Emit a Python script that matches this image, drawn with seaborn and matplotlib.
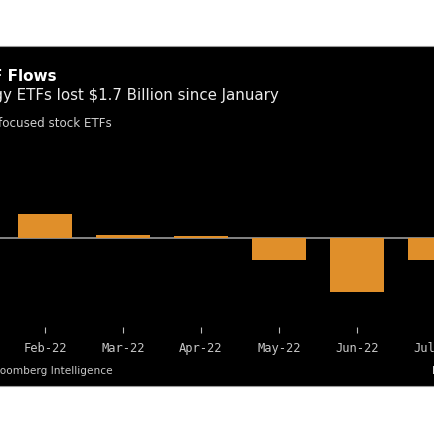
import pandas as pd
import matplotlib
matplotlib.use("Agg")
import matplotlib.pyplot as plt
from matplotlib.patches import Rectangle
import seaborn as sns

# Monthly flows into energy-focused stock ETFs, $ millions
months = ["Jan-22", "Feb-22", "Mar-22", "Apr-22", "May-22", "Jun-22", "Jul-22"]
flows = [-300, 480, 70, 35, -440, -1080, -440]

title = "Energy ETF Flows"
subtitle = "Energy ETFs lost $1.7 Billion since January"
note = "Monthly flows for energy-focused stock ETFs"
source = "Source: Bloomberg Intelligence"

df = pd.DataFrame({"Month": months, "Flow": flows})

sns.set_theme(style="white")
plt.rcParams["font.family"] = ["DejaVu Sans"]

W = H = 435
fig = plt.figure(figsize=(4.35, 4.35), dpi=100, facecolor="white")

# black panel of the original graphic (cropped screenshot)
fig.patches.append(Rectangle((-0.01, (H - 387) / H), 1.02, 340 / H,
                             transform=fig.transFigure, facecolor="black",
                             edgecolor="#9a9a9a", linewidth=0.8, zorder=-5))

# axes spans beyond the visible crop: Jan..Jul, 78 px per month
ax = fig.add_axes([-72 / W, (H - 328) / H, 546 / W, 178 / H])
ax.set_facecolor("none")

sns.barplot(data=df, x="Month", y="Flow", color="#e08f2a", width=0.69,
            saturation=1, linewidth=0, edgecolor="none", ax=ax, zorder=2)
ax.axhline(0, color="#a8a8a8", linewidth=1.1, zorder=1)

ax.set_xlim(-0.5, len(months) - 0.5)
ax.set_ylim(-1780, 1780)
ax.set_xlabel("")
ax.set_ylabel("")
ax.set_yticks([])
for s in ax.spines.values():
    s.set_visible(False)
ax.tick_params(axis="x", bottom=True, direction="out", length=4, width=0.8,
               color="#bbbbbb", pad=6, labelsize=8.7, labelcolor="#c8c8c8")
for lbl in ax.get_xticklabels():
    lbl.set_family("DejaVu Sans Mono")

# header texts, anchored by their right ends as cropped in the reference
fig.text(57 / W, (H - 81) / H, title, ha="right", va="baseline",
         fontsize=11, fontweight="bold", color="white")
fig.text(279 / W, (H - 100) / H, subtitle, ha="right", va="baseline",
         fontsize=10.8, color="#ececec")
fig.text(112 / W, (H - 127) / H, note, ha="right", va="baseline",
         fontsize=8.6, color="#cfcfcf")
fig.text(113 / W, (H - 374) / H, source, ha="right", va="baseline",
         fontsize=7.6, color="#c8c8c8")
fig.text(432 / W, (H - 374) / H, "Bloomberg", ha="left", va="baseline",
         fontsize=8, fontweight="bold", color="#dddddd")

fig.savefig("out.png", dpi=100, facecolor="white")
